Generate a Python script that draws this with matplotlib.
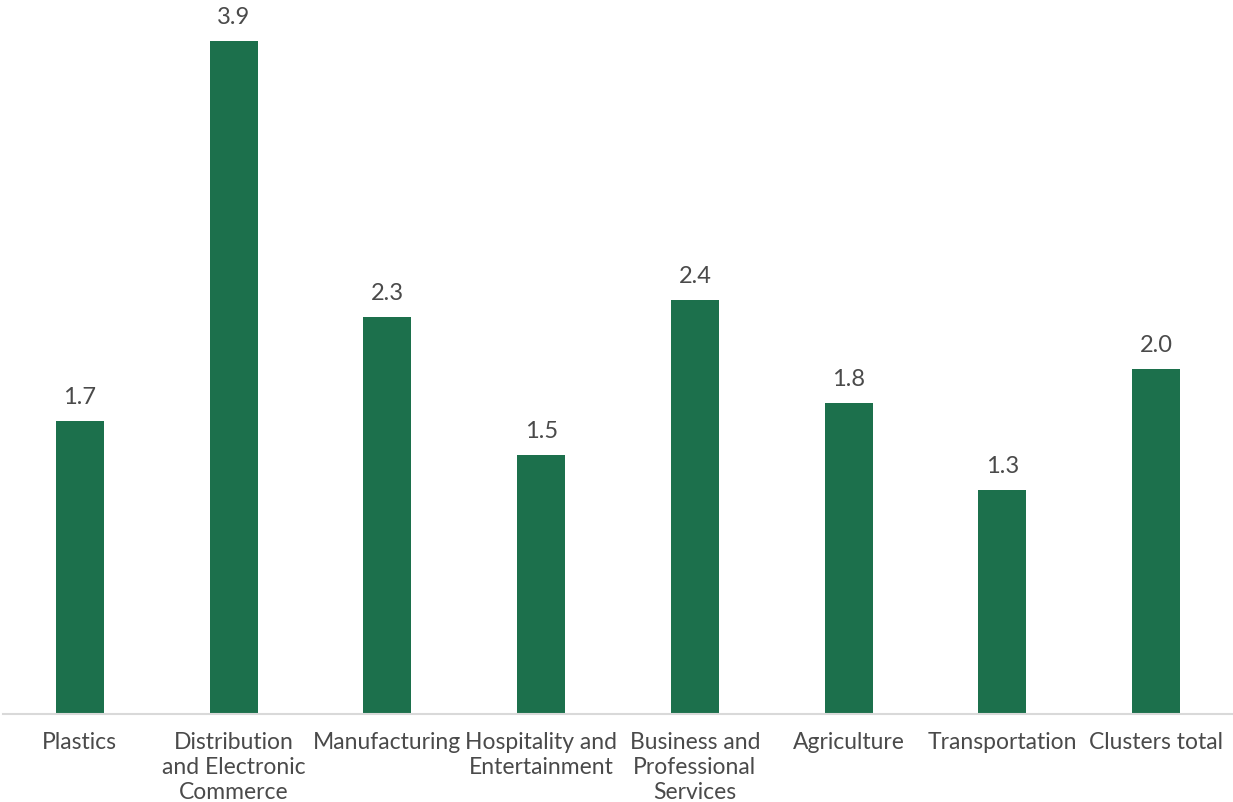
import matplotlib
matplotlib.use("Agg")
import matplotlib.pyplot as plt

categories = ["Plastics", "Distribution\nand Electronic\nCommerce", "Manufacturing",
              "Hospitality and\nEntertainment", "Business and\nProfessional\nServices",
              "Agriculture", "Transportation", "Clusters total"]
values = [1.7, 3.9, 2.3, 1.5, 2.4, 1.8, 1.3, 2.0]

plt.rcParams['font.family'] = ['Lato', 'DejaVu Sans']
text_color = "#4A4A4A"
bar_color = "#1C704C"

fig = plt.figure(figsize=(12.33, 8.03), dpi=100)
ax = fig.add_axes([3/1233, 1-715/803, 1230/1233, (715-24.6)/803])
x = list(range(len(categories)))
bars = ax.bar(x, values, width=0.312, color=bar_color)
ax.set_xlim(-0.5, len(categories)-0.5)
ax.set_ylim(0, 4.0)
for xi, v in zip(x, values):
    ax.annotate(f"{v:.1f}", (xi, v), xytext=(0, 10), textcoords="offset points",
                ha="center", va="bottom", fontsize=17, color=text_color)
ax.set_xticks(x)
ax.set_xticklabels(categories, fontsize=16.5, color=text_color, linespacing=1.24)
ax.tick_params(axis='x', length=0, pad=12)
ax.set_yticks([])
for s in ["top", "right", "left"]:
    ax.spines[s].set_visible(False)
ax.spines["bottom"].set_color("#D9D9D9")
ax.spines["bottom"].set_linewidth(1.5)
fig.savefig("out.png", dpi=100)
